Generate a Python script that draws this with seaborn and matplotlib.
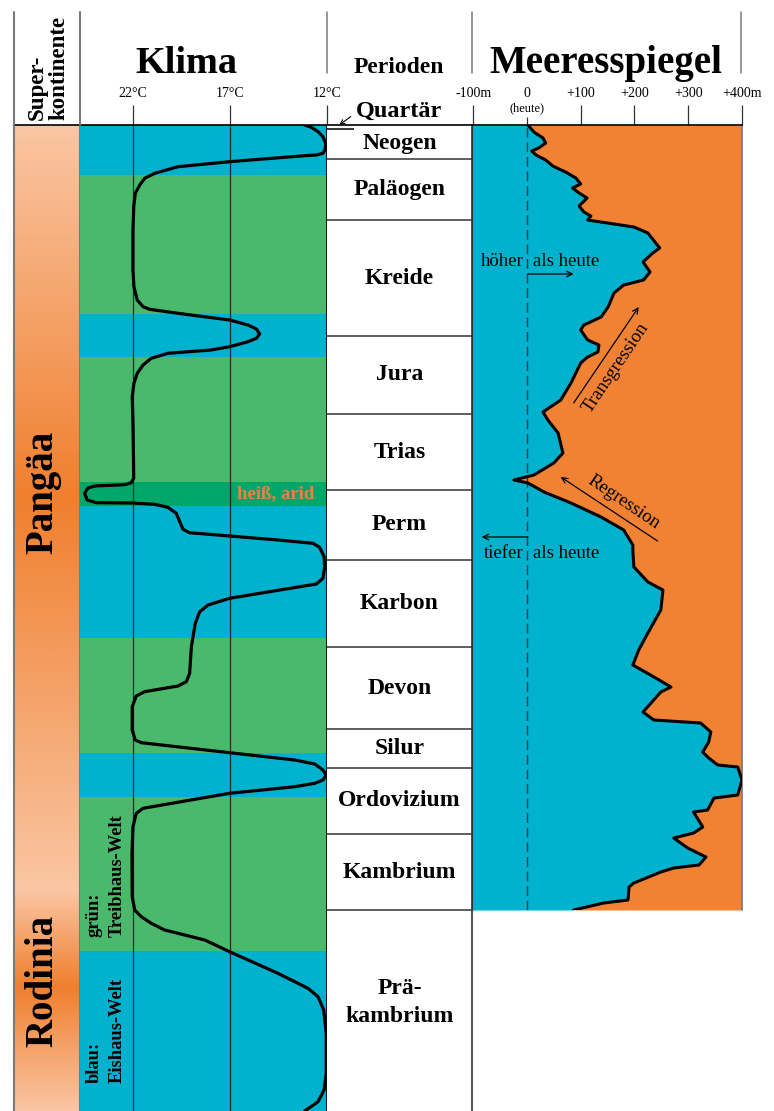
import numpy as np
import matplotlib
matplotlib.use("Agg")
import matplotlib.pyplot as plt
from matplotlib.colors import LinearSegmentedColormap
from matplotlib.lines import Line2D
from matplotlib.patches import FancyArrowPatch
import seaborn as sns

sns.set_style("white")
plt.rcParams["font.family"] = ["Liberation Serif", "DejaVu Serif"]
plt.rcParams["text.color"] = "black"
plt.rcParams["xtick.color"] = "black"
plt.rcParams["xtick.labelcolor"] = "black"

W, H = 774, 1111

# colours
C_EIS = "#00B2CE"
C_TREIB = "#4BB96B"
C_HEISS = "#00A66A"
C_LAND = "#F18234"
C_TEXT_HOT = "#E8843C"
C_SC_LIGHT = "#FAC6A4"
C_SC_DARK = "#F07F2E"
C_GRID = "#7a7a7a"

# vertical position down the chart: 0 = today (top), 986 = base of the Präkambrium
periods = ["Neogen", "Paläogen", "Kreide", "Jura", "Trias", "Perm", "Karbon",
           "Devon", "Silur", "Ordovizium", "Kambrium", "Prä-\nkambrium"]
period_top = [4, 34, 95, 211, 289, 365, 435, 522, 604, 643, 709, 785]
period_bottom = [34, 95, 211, 289, 365, 435, 522, 604, 643, 709, 785, 986]

# climate states (Eishaus / Treibhaus / heiß-arid)
climate_top = [0, 50, 189, 232, 357, 381, 513, 628, 672, 826]
climate_bottom = [50, 189, 232, 357, 381, 513, 628, 672, 826, 986]
climate_state = ["eis", "treib", "eis", "treib", "heiss", "eis", "treib", "eis", "treib", "eis"]

# global mean temperature (°C)
temp_pos = [0, 2.3, 6.7, 11.7, 18.3, 24.3, 28.3, 30, 30.7, 36.7,
            41.7, 48.3, 53.3, 60, 68.3, 81.7, 105, 145, 161.7, 175,
            181.7, 184.3, 188.3, 195, 200, 204, 209, 213.3, 216.7, 221.7,
            225, 228.3, 233.3, 240, 248.3, 258.3, 271.7, 298.3, 353.3, 357.7,
            359.7, 361, 363, 368.3, 375, 377.7, 378, 379.3, 382.3, 388.3,
            396.7, 404.3, 407.7, 411, 415, 418.3, 422.3, 431.7, 441.7, 453.3,
            459, 473.3, 480, 486.7, 498.3, 521.7, 548.3, 556.7, 561, 566.7,
            571, 581.7, 605, 615, 617.7, 627.7, 635, 639, 645, 650,
            655, 658.3, 661.7, 668.3, 683.3, 688.3, 701.7, 728.3, 771.7, 785,
            791.7, 798.3, 805, 815, 826.7, 848.3, 863.3, 871.7, 885, 908.3,
            948.3, 965, 976.7, 986]
temp_c = [13.15, 12.81, 12.46, 12.21, 12.07, 12.09, 12.21, 12.55, 13.15, 17.02,
          19.68, 20.88, 21.40, 21.65, 21.88, 21.96, 22.0, 22.0, 21.95, 21.78,
          21.48, 21.14, 19.68, 17.02, 16.07, 15.64, 15.47, 15.64, 16.07, 17.02,
          17.98, 20.20, 21.06, 21.48, 21.78, 21.95, 22.04, 22.0, 21.96, 22.09,
          22.43, 23.97, 24.32, 24.49, 24.36, 23.89, 22.09, 20.88, 20.20, 19.77,
          19.59, 19.42, 19.08, 17.02, 14.53, 12.72, 12.38, 12.15, 12.12, 12.21,
          12.55, 17.02, 18.13, 18.56, 18.79, 18.99, 19.08, 19.25, 19.68, 21.40,
          21.83, 22.04, 22.04, 21.88, 21.57, 17.02, 13.66, 12.63, 12.21, 12.04,
          12.21, 12.63, 13.66, 17.02, 21.48, 21.83, 22.0, 22.05, 22.04, 21.91,
          21.57, 21.06, 20.37, 18.30, 17.02, 14.53, 12.98, 12.46, 12.17, 12.04,
          12.04, 12.15, 12.46, 13.15]

# sea level relative to today (m)
sea_pos = [0, 7, 13, 18, 23, 26, 30, 35, 41, 47,
           53, 59, 63, 68, 73, 81, 87, 91, 95, 102,
           108, 123, 128, 137, 147, 155, 160, 168, 182, 192,
           200, 205, 215, 220, 227, 232, 238, 258, 275, 287,
           295, 308, 328, 338, 350, 355, 358, 367, 378, 392,
           405, 420, 425, 442, 457, 465, 485, 508, 525, 540,
           550, 562, 567, 587, 595, 598, 607, 617, 627, 633,
           640, 642, 655, 670, 673, 685, 687, 702, 708, 713,
           723, 732, 740, 743, 747, 758, 762, 775, 778, 785]
sea_m = [2, 13, 30, 35, 22, 9, 17, 35, 48, 72,
         91, 100, 85, 97, 112, 97, 106, 119, 113, 199,
         225, 247, 234, 216, 229, 217, 180, 162, 151, 138,
         106, 100, 113, 134, 132, 113, 100, 82, 63, 30,
         39, 58, 67, 50, 13, -24, 2, 32, 82, 138,
         180, 197, 197, 199, 225, 253, 249, 225, 208, 197,
         230, 268, 249, 216, 236, 323, 342, 338, 327, 338,
         355, 392, 400, 392, 348, 336, 310, 327, 310, 273,
         299, 333, 320, 273, 249, 199, 190, 188, 143, 87]

supercontinents = ["Pangäa", "Rodinia"]
supercontinent_centre = [367, 856]


def rect(x0, y0, x1, y1):
    return [x0 / W, 1 - y1 / H, (x1 - x0) / W, (y1 - y0) / H]


def fx(x):
    return x / W


def fy(y):
    return 1 - y / H


def vline(x, y0, y1, color=C_GRID, lw=1.1):
    fig.add_artist(Line2D([fx(x), fx(x)], [fy(y0), fy(y1)], transform=fig.transFigure,
                          color=color, lw=lw))


fig = plt.figure(figsize=(W / 100, H / 100), dpi=100)

ax_sc = fig.add_axes(rect(14, 125, 80, 1111))
ax_cl = fig.add_axes(rect(80, 125, 327, 1111))
ax_per = fig.add_axes(rect(327, 125, 472, 1111))
ax_sea = fig.add_axes(rect(472, 125, 742, 910))

for ax in (ax_sc, ax_cl, ax_per, ax_sea):
    ax.set_yticks([])
    for s in ax.spines.values():
        s.set_visible(False)
    ax.spines["top"].set_visible(True)
    ax.spines["top"].set_color("black")
    ax.spines["top"].set_linewidth(1.2)

# ---- supercontinents ----
depth = np.arange(0, 987)
shade = np.interp(depth, [0, 372, 765, 862, 986], [0, 1, 0, 1, 0])
cmap = LinearSegmentedColormap.from_list("sc", [C_SC_LIGHT, C_SC_DARK])
ax_sc.imshow(shade[:, None], aspect="auto", cmap=cmap, vmin=0, vmax=1,
             extent=[0, 1, 986, 0], interpolation="bilinear")
ax_sc.set_xlim(0, 1)
ax_sc.set_ylim(986, 0)
ax_sc.set_xticks([])
for side in ("left", "right"):
    ax_sc.spines[side].set_visible(True)
    ax_sc.spines[side].set_color(C_GRID)
    ax_sc.spines[side].set_linewidth(1.5)
for name, c in zip(supercontinents, supercontinent_centre):
    ax_sc.text(0.43, c, name, rotation=90, ha="center", va="center",
               fontsize=28, fontweight="bold", color="black")

# ---- climate ----
state_colour = {"eis": C_EIS, "treib": C_TREIB, "heiss": C_HEISS}
for t, b, s in zip(climate_top, climate_bottom, climate_state):
    ax_cl.axhspan(t, b, color=state_colour[s], lw=0, zorder=0)
for tc in (22, 17):
    ax_cl.axvline(tc, color="#1c2a2a", lw=0.9, zorder=1)
sns.lineplot(x=temp_c, y=temp_pos, sort=False, estimator=None, color="black",
             lw=2.3, ax=ax_cl, solid_joinstyle="round", solid_capstyle="round", zorder=3)
ax_cl.set_xlim(24.73, 12)
ax_cl.set_ylim(986, 0)
ax_cl.set_xlabel("")
ax_cl.set_ylabel("")
ax_cl.spines["right"].set_visible(True)
ax_cl.spines["right"].set_color("black")
ax_cl.spines["right"].set_linewidth(1.2)
ax_cl.xaxis.set_ticks_position("top")
ax_cl.set_xticks([22, 17, 12], ["22°C", "17°C", "12°C"])
ax_cl.tick_params(axis="x", direction="out", length=14.4, width=0.9, pad=3.5,
                  labelsize=10, top=True, bottom=False, labeltop=True,
                  labelbottom=False, color="#333333", labelcolor="black")

ax_cl.text(14.63, 369, "heiß, arid", ha="center", va="center", fontsize=13.5,
           fontweight="bold", color=C_TEXT_HOT)
ax_cl.text(23.42, 812, "grün:\nTreibhaus-Welt", rotation=90, rotation_mode="anchor",
           ha="left", va="center", multialignment="left", fontsize=13.3,
           fontweight="bold", linespacing=1.45)
ax_cl.text(23.42, 958, "blau:\nEishaus-Welt", rotation=90, rotation_mode="anchor",
           ha="left", va="center", multialignment="left", fontsize=13.3,
           fontweight="bold", linespacing=1.45)

# ---- geological periods ----
ax_per.set_xlim(0, 1)
ax_per.set_ylim(986, 0)
ax_per.set_xticks([])
ax_per.spines["right"].set_visible(True)
ax_per.spines["right"].set_color("#333333")
ax_per.spines["right"].set_linewidth(1.2)
ax_per.hlines(period_top[1:], 0, 1, color="#333333", lw=1.1)
ax_per.hlines([period_top[0]], 0, 0.186, color="black", lw=1.1)
for name, t, b in zip(periods, period_top, period_bottom):
    centre = (t + b) / 2
    if "\n" in name:
        centre -= 8
    ax_per.text(0.5, centre, name, ha="center", va="center", fontsize=17,
                fontweight="bold", linespacing=1.4)

# ---- sea level ----
ax_sea.set_xlim(-102, 400)
ax_sea.set_ylim(785, 0)
ax_sea.fill_betweenx(sea_pos, -102, sea_m, color=C_EIS, lw=0, zorder=0)
ax_sea.fill_betweenx(sea_pos, sea_m, 400, color=C_LAND, lw=0, zorder=0)
ax_sea.axvline(0, color="#163848", lw=1.0, ls=(0, (7, 3.5)), zorder=1)
sns.lineplot(x=sea_m, y=sea_pos, sort=False, estimator=None, color="black",
             lw=2.2, ax=ax_sea, solid_joinstyle="round", solid_capstyle="round", zorder=3)
ax_sea.set_xlabel("")
ax_sea.set_ylabel("")
ax_sea.spines["left"].set_visible(True)
ax_sea.spines["left"].set_color("#333333")
ax_sea.spines["right"].set_visible(True)
ax_sea.spines["right"].set_color(C_GRID)
ax_sea.spines["right"].set_linewidth(1.2)
ax_sea.xaxis.set_ticks_position("top")
ax_sea.set_xticks([-100, 0, 100, 200, 300, 400],
                  ["-100m", "0", "+100", "+200", "+300", "+400m"])
ax_sea.tick_params(axis="x", direction="out", length=14.4, width=0.9, pad=3.5,
                   labelsize=10, top=True, bottom=False, labeltop=True,
                   labelbottom=False, color="#333333", labelcolor="black")

txt = dict(fontsize=13.5, va="center")
ax_sea.text(-7, 137, "höher", ha="right", **txt)
ax_sea.text(11, 137, "als heute", ha="left", **txt)
ax_sea.annotate("", xy=(87, 149), xytext=(2, 149),
                arrowprops=dict(arrowstyle="->", lw=0.9, color="black", shrinkA=0, shrinkB=0))
ax_sea.text(-7, 428, "tiefer", ha="right", **txt)
ax_sea.text(11, 428, "als heute", ha="left", **txt)
ax_sea.annotate("", xy=(-84, 412), xytext=(2, 412),
                arrowprops=dict(arrowstyle="->", lw=0.9, color="black", shrinkA=0, shrinkB=0))
ax_sea.annotate("", xy=(208, 182), xytext=(87, 278),
                arrowprops=dict(arrowstyle="->", lw=0.9, color="black", shrinkA=0, shrinkB=0))
ax_sea.text(165, 243, "Transgression", rotation=56, ha="center", va="center",
            fontsize=13.5, rotation_mode="anchor")
ax_sea.annotate("", xy=(63, 352), xytext=(243, 416),
                arrowprops=dict(arrowstyle="->", lw=0.9, color="black", shrinkA=0, shrinkB=0))
ax_sea.text(180, 377, "Regression", rotation=-34, ha="center", va="center",
            fontsize=13.5, rotation_mode="anchor")

ticks = ax_sea.xaxis.get_major_ticks()
ticks[1].tick2line.set_markersize(5.8)

# ---- header ----
for x in (14, 80):
    vline(x, 12, 125, lw=1.5)
for x in (327, 472, 741):
    vline(x, 12, 73)

fig.text(fx(48), fy(120), "Super-\nkontinente", rotation=90, rotation_mode="anchor",
         ha="left", va="center", multialignment="left", fontsize=16.5,
         fontweight="bold", linespacing=1.05)
fig.text(fx(186), fy(73), "Klima", ha="center", va="baseline", fontsize=27.5,
         fontweight="bold")
fig.text(fx(399), fy(73), "Perioden", ha="center", va="baseline", fontsize=17,
         fontweight="bold")
fig.text(fx(606), fy(73), "Meeresspiegel", ha="center", va="baseline", fontsize=28,
         fontweight="bold")
fig.text(fx(527), fy(111.7), "(heute)", ha="center", va="baseline", fontsize=9)
fig.text(fx(399), fy(117), "Quartär", ha="center", va="baseline", fontsize=17.5,
         fontweight="bold")
fig.add_artist(FancyArrowPatch((fx(353), fy(115)), (fx(337), fy(126.5)),
                               transform=fig.transFigure, arrowstyle="->",
                               mutation_scale=8, lw=0.8, color="black"))

fig.savefig("out.png", dpi=100)
